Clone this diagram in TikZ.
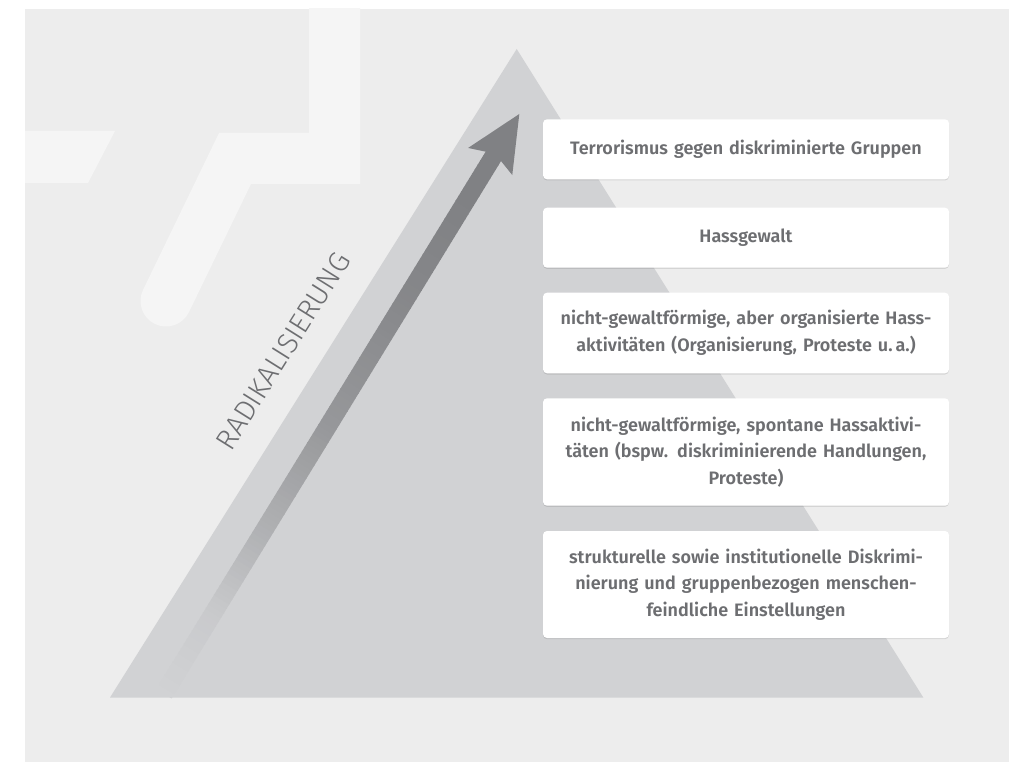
\documentclass[tikz,border=0pt]{standalone}
\usepackage{fontspec}
\setmainfont{Fira Sans}[BoldFont={Fira Sans SemiBold}]
\newfontfamily\lightfont{Fira Sans Light}
\usetikzlibrary{shadows}
\definecolor{panelbg}{HTML}{EDEDED}
\definecolor{deco}{HTML}{F5F5F5}
\definecolor{tri}{HTML}{D1D2D4}
\definecolor{arrdark}{HTML}{808184}
\definecolor{txt}{HTML}{6D6E71}
\tikzset{
  levelbox/.style={fill=white, rounded corners=4pt, minimum width=406pt,
    text width=400pt, align=center, inner sep=0pt,
    font=\bfseries\fontsize{18}{26.7}\selectfont, text=txt,
    drop shadow={shadow xshift=0pt, shadow yshift=-1.2pt, opacity=0.10, fill=black}},
  decoshape/.style={fill=deco},
}
\begin{document}
\begin{tikzpicture}[x=1pt,y=-1pt]
\useasboundingbox (0,0) rectangle (1017,762);
\fill[white] (0,0) rectangle (1017,762);
\fill[panelbg] (25,9) rectangle (1009,762);
\begin{scope}
  \clip (25,9) rectangle (1009,762);
  \fill[decoshape] (20,131) -- (115,131) -- (88,183) -- (20,183) -- cycle;
  \draw[deco, line width=51pt, line cap=round, line join=miter]
    (334.5,-30) -- (334.5,158.5) -- (235,158.5) -- (166,301);
\end{scope}
% pyramid
\fill[tri] (516.7,49) -- (923.3,697.5) -- (110,697.5) -- cycle;
% arrow
\begin{scope}[shift={(519.3,114)}, x={(0.5226pt,0.8526pt)}, y={(0.8526pt,-0.5226pt)}]
  \foreach \i in {0,...,119} {
    \pgfmathsetmacro{\aS}{-680+\i*5.2525}
    \pgfmathsetmacro{\aE}{\aS+5.2525+0.8}
    \pgfmathsetmacro{\fr}{(\i+0.5)/120}
    \pgfmathsetmacro{\pp}{100*(\fr<0.15 ? \fr/0.15*0.1 : (\fr<0.3 ? 0.1+(\fr-0.15)/0.15*0.3 : (\fr<0.5 ? 0.4+(\fr-0.3)/0.2*0.32 : (\fr<0.75 ? 0.72+(\fr-0.5)/0.25*0.21 : (\fr<0.92 ? 0.93+(\fr-0.75)/0.17*0.07 : 1)))))}
    \fill[arrdark!\pp!tri] (\aS,-9) -- (\aE,-9) -- (\aE,9) -- (\aS,9) -- cycle;
  }
  \fill[arrdark] (0,0) -- (-55.7,25.9) -- (-49.7,9) -- (-49.7,-9) -- (-55.7,-25.9) -- cycle;
\end{scope}
\node[font=\lightfont\fontsize{29}{29}\selectfont, text=txt, rotate=57.9, inner sep=0pt] (radlabel) at (283,351) {RADIKALISIERUNG};
% levels
\node[levelbox, minimum height=60pt] (l5) at (746,149.3) {Terrorismus gegen diskriminierte Gruppen};
\node[levelbox, minimum height=60pt] (l4) at (746,237.7) {Hassgewalt};
\node[levelbox, minimum height=80.6pt] (l3) at (746,333) {nicht-gewaltförmige, aber organisierte Hass-\\aktivitäten (Organisierung, Proteste u.\,a.)};
\node[levelbox, minimum height=107.4pt] (l2) at (746,452) {nicht-gewaltförmige, spontane Hassaktivi-\\täten (bspw. diskriminierende Handlungen,\\Proteste)};
\node[levelbox, minimum height=107pt] (l1) at (746,584.5) {strukturelle sowie institutionelle Diskrimi-\\nierung und gruppenbezogen menschen-\\feindliche Einstellungen};
\end{tikzpicture}
\end{document}
